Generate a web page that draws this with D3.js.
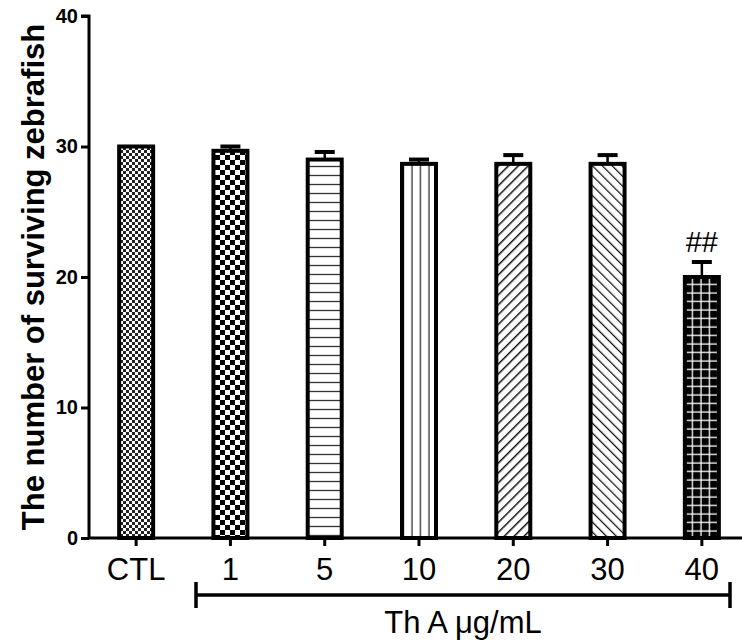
<!DOCTYPE html>
<html><head><meta charset="utf-8">
<script src="https://cdn.jsdelivr.net/npm/d3@7"></script>
<style>body{margin:0;background:#fff}svg{display:block}</style>
</head><body>
<script>
const categories = ["CTL","1","5","10","20","30","40"];
const means = [30, 29.67, 29.0, 28.67, 28.67, 28.67, 20.0];
const errors = [0, 0.33, 0.58, 0.33, 0.67, 0.67, 1.15];
const annotations = ["", "", "", "", "", "", "##"];
const patterns = ["fineCheck","bigCheck","hLines","vLines","fDiag","bDiag","grid"];
const yTicks = [0,10,20,30,40];
const groupLabel = "Th A μg/mL";
const yTitle = "The number of surviving zebrafish";

const W = 742, H = 641;
const FONT = "Liberation Sans, Arial, sans-serif";
const svg = d3.select("body").append("svg").attr("width", W).attr("height", H);
const defs = svg.append("defs");

function pat(id, w, h) {
  return defs.append("pattern").attr("id", id).attr("patternUnits","userSpaceOnUse")
    .attr("width", w).attr("height", h);
}
let p = pat("fineCheck", 6, 6);
p.append("rect").attr("width",6).attr("height",6).attr("fill","#fff");
p.append("rect").attr("width",3).attr("height",3).attr("fill","#222");
p.append("rect").attr("x",3).attr("y",3).attr("width",3).attr("height",3).attr("fill","#222");
p = pat("bigCheck", 10, 10);
p.append("rect").attr("width",10).attr("height",10).attr("fill","#fff");
p.append("rect").attr("width",5).attr("height",5).attr("fill","#000");
p.append("rect").attr("x",5).attr("y",5).attr("width",5).attr("height",5).attr("fill","#000");
p = pat("hLines", 10, 9);
p.append("rect").attr("width",10).attr("height",9).attr("fill","#fff");
p.append("line").attr("x1",0).attr("x2",10).attr("y1",4.5).attr("y2",4.5).attr("stroke","#333").attr("stroke-width",1.3);
p = pat("vLines", 8.5, 10);
p.append("rect").attr("width",8.5).attr("height",10).attr("fill","#fff");
p.append("line").attr("y1",0).attr("y2",10).attr("x1",4).attr("x2",4).attr("stroke","#333").attr("stroke-width",1.3);
p = pat("fDiag", 7, 7).attr("patternTransform","rotate(45)");
p.append("rect").attr("width",7).attr("height",7).attr("fill","#fff");
p.append("line").attr("x1",0).attr("x2",0).attr("y1",0).attr("y2",7).attr("stroke","#111").attr("stroke-width",3);
p = pat("bDiag", 7, 7).attr("patternTransform","rotate(-45)");
p.append("rect").attr("width",7).attr("height",7).attr("fill","#fff");
p.append("line").attr("x1",0).attr("x2",0).attr("y1",0).attr("y2",7).attr("stroke","#111").attr("stroke-width",2.5);
p = pat("grid", 8.5, 8.5);
p.append("rect").attr("width",8.5).attr("height",8.5).attr("fill","#000");
p.append("line").attr("x1",0).attr("x2",8.5).attr("y1",4).attr("y2",4).attr("stroke","#fff").attr("stroke-width",1.3);
p.append("line").attr("y1",0).attr("y2",8.5).attr("x1",4).attr("x2",4).attr("stroke","#fff").attr("stroke-width",1.3);

const x0 = 89, x1 = 749;
const x = d3.scaleBand().domain(categories).range([x0, x1]).paddingInner(0.6).paddingOuter(0.3);
const y = d3.scaleLinear().domain([0,40]).range([538,16]);

// bars
const bw = 34;
const g = svg.append("g");
categories.forEach((c,i) => {
  const cx = x(c) + x.bandwidth()/2;
  const top = y(means[i]);
  if (errors[i] > 0) {
    const ey = y(means[i] + errors[i]);
    g.append("line").attr("x1",cx).attr("x2",cx).attr("y1",top).attr("y2",ey).attr("stroke","#000").attr("stroke-width",2.5);
    g.append("line").attr("x1",cx-10).attr("x2",cx+10).attr("y1",ey).attr("y2",ey).attr("stroke","#000").attr("stroke-width",4);
  }
  g.append("rect").attr("x",cx-bw/2).attr("y",top).attr("width",bw).attr("height",y(0)-top)
    .attr("fill",`url(#${patterns[i]})`).attr("stroke","#000").attr("stroke-width",4);
  if (annotations[i]) {
    svg.append("text").attr("x",cx).attr("y",y(means[i]+errors[i]) - 10)
      .attr("text-anchor","middle").attr("font-family",FONT)
      .attr("font-size",29).text(annotations[i]);
  }
});

// y axis
const yAxis = svg.append("g").attr("transform",`translate(${x0},0)`)
  .call(d3.axisLeft(y).tickValues(yTicks).tickSize(8).tickPadding(3));
yAxis.select(".domain").attr("stroke-width",3).attr("d",`M-8,${y(40)}H0V${y(0)}`);
yAxis.selectAll(".tick line").attr("stroke-width",3);
yAxis.selectAll("text").attr("font-family",FONT).attr("font-size",20).attr("font-weight","bold").attr("fill","#000");

// x axis
const xAxis = svg.append("g").attr("transform",`translate(0,${y(0)})`)
  .call(d3.axisBottom(x).tickSize(8).tickPadding(12));
xAxis.select(".domain").attr("stroke-width",3).attr("d",`M${x0},0H742`);
xAxis.selectAll(".tick line").attr("stroke-width",3);
xAxis.selectAll("text").attr("font-family",FONT).attr("font-size",31).attr("fill","#000");

// bracket
const bx1 = 196, bx2 = 730, by = 595;
svg.append("line").attr("x1",bx1).attr("x2",bx2).attr("y1",by).attr("y2",by).attr("stroke","#000").attr("stroke-width",3.5);
[bx1,bx2].forEach(bx => svg.append("line").attr("x1",bx).attr("x2",bx).attr("y1",by-13).attr("y2",by+13).attr("stroke","#000").attr("stroke-width",3.5));
svg.append("text").attr("x",(bx1+bx2)/2).attr("y",633).attr("text-anchor","middle")
  .attr("font-family",FONT).attr("font-size",31).text(groupLabel);

// y title
svg.append("text").attr("transform",`translate(44,${(y(0)+y(40))/2}) rotate(-90)`)
  .attr("text-anchor","middle").attr("font-family",FONT)
  .attr("font-size",31).attr("font-weight","bold").text(yTitle);
</script>
</body></html>
